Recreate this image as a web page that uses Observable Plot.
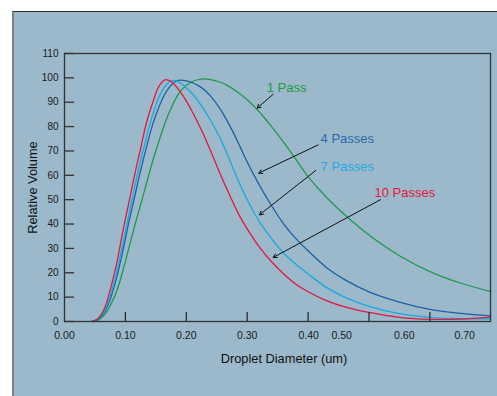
<!DOCTYPE html>
<html>
<head>
<meta charset="utf-8">
<script src="https://cdn.jsdelivr.net/npm/d3@7"></script>
<script src="https://cdn.jsdelivr.net/npm/@observablehq/plot@0.6"></script>
<style>
  html, body { margin: 0; padding: 0; background: #ffffff; }
  #panel {
    position: absolute; left: 12px; top: 11px;
    width: 483px; height: 384px;
    background: #9bb9ca;
    border-left: 2px solid #7a7f82;
    border-top: 1px solid #2a2a2a;
    overflow: hidden;
  }
</style>
</head>
<body>
<div id="panel"></div>
<script>
// Shared droplet-diameter grid (um)
const diameter = [0.045, 0.055, 0.065, 0.075, 0.085, 0.095, 0.105, 0.115, 0.125, 0.135,
  0.145, 0.155, 0.165, 0.175, 0.185, 0.195, 0.21, 0.225, 0.24, 0.255, 0.27, 0.285,
  0.30, 0.32, 0.34, 0.36, 0.38, 0.40, 0.43, 0.46, 0.50, 0.55, 0.60, 0.65, 0.70];

// Relative volume per series
const pass1 = [0, 0.6, 2.5, 6.5, 12, 20, 29.5, 39, 48, 57,
  66, 74, 81.5, 87.5, 92.5, 95.8, 98.5, 99.5, 99.3, 98.3, 96.5, 94,
  91, 86, 80, 73.5, 66.5, 59.5, 51, 43.8, 35.5, 27, 20.5, 15.8, 12.3];
const pass4 = [0, 0.8, 3.5, 9, 17.5, 28, 40, 51, 62, 72,
  81, 88, 93.5, 97, 98.9, 99, 98, 96, 92.5, 87.5, 81, 73.5,
  65.5, 56, 47.5, 40, 34, 29, 22.2, 17.2, 12.2, 8, 5, 3.3, 2.3];
const pass7 = [0, 1, 4, 10.5, 19.5, 31, 43, 55, 66, 76,
  85, 92, 96.5, 98.8, 98.7, 97, 93.5, 88.5, 82.5, 75.5, 67, 58,
  50, 41, 34, 28, 23.5, 19.5, 14, 10, 6.2, 3.2, 1.7, 1.2, 1.1];
const pass10 = [0, 1.2, 5, 13, 23, 36, 48, 60, 71, 82,
  90, 96.5, 99.2, 98.5, 96, 92.5, 86, 78.5, 70, 61, 52.5, 44.5,
  38, 30.5, 24.5, 19.5, 15.3, 12.2, 8.6, 6, 3.7, 1.7, 0.9, 1.0, 1.8];

const seriesNames = ["1 Pass", "4 Passes", "7 Passes", "10 Passes"];
const seriesValues = [pass1, pass4, pass7, pass10];
const lineColors = ["#1e9a4c", "#1b60a6", "#19a8e0", "#e2183c"];
const labelColors = ["#1e9a4c", "#2a6aaa", "#26aae2", "#e2183c"];

// Annotation label anchors and arrows (data units)
const labelX = [0.332, 0.4205, 0.4205, 0.509];
const labelY = [96.1, 75.1, 63.6, 52.9];
const arrowX1 = [0.3427, 0.4166, 0.4126, 0.5189];
const arrowY1 = [93.3, 72.5, 62.0, 50.0];
const arrowX2 = [0.3164, 0.3191, 0.3202, 0.3427];
const arrowY2 = [87.6, 60.9, 43.8, 26.3];

// Axis ticks and labels
const yTicks = [0, 10, 20, 30, 40, 50, 60, 70, 80, 90, 100, 110];
const xTickMarks = [0.1, 0.2, 0.3, 0.4, 0.5, 0.6];
const xTickLabels = ["0.00", "0.10", "0.20", "0.30", "0.40", "0.50", "0.60", "0.70"];
const xTickLabelAt = [0, 0.1, 0.2, 0.3, 0.401, 0.455, 0.558, 0.657];

const rows = [];
seriesNames.forEach((name, i) => {
  diameter.forEach((d, j) => rows.push({series: name, x: d, y: seriesValues[i][j]}));
});
const labels = seriesNames.map((name, i) => ({name, x: labelX[i], y: labelY[i], color: labelColors[i]}));
const arrows = seriesNames.map((name, i) => ({x1: arrowX1[i], y1: arrowY1[i], x2: arrowX2[i], y2: arrowY2[i]}));
const xlab = xTickLabels.map((t, i) => ({t, x: xTickLabelAt[i]}));

const font = "'Liberation Sans', Arial, Helvetica, sans-serif";
const blank = () => "";

const chart = Plot.plot({
  width: 483,
  height: 384,
  marginLeft: 50,
  marginRight: 7,
  marginTop: 41,
  marginBottom: 75,
  style: {background: "transparent", fontFamily: font, color: "#1a1a1a"},
  x: {domain: [0, 0.6995], axis: null},
  y: {domain: [0, 110], axis: null},
  color: {domain: seriesNames, range: lineColors},
  marks: [
    Plot.line(rows, {x: "x", y: "y", z: "series", stroke: "series", strokeWidth: 1.3, curve: "catmull-rom"}),
    Plot.axisY({ticks: yTicks, tickSize: -10, tickFormat: blank, label: null, stroke: "#333", strokeWidth: 1.3}),
    Plot.axisY({ticks: yTicks, tickSize: 0, tickPadding: 6, tickFormat: d => String(d), fontSize: 10, label: null, fill: "#1a1a1a"}),
    Plot.axisX({ticks: xTickMarks, tickSize: -9, tickFormat: blank, stroke: "#222", strokeWidth: 1.2, label: null}),
    Plot.text(xlab, {x: "x", y: 0, text: "t", dy: 14, fontSize: 10.5, fill: "#1a1a1a"}),
    Plot.frame({stroke: "#333", strokeWidth: 1.3}),
    Plot.text(["Droplet Diameter (um)"], {frameAnchor: "bottom", textAnchor: "middle", lineAnchor: "middle", dx: 6.5, dy: 37, fontSize: 12.8, fill: "#111"}),
    Plot.text(["Relative Volume"], {frameAnchor: "left", textAnchor: "middle", lineAnchor: "middle", dx: -32, rotate: -90, fontSize: 12.8, fill: "#111"}),
    Plot.arrow(arrows, {x1: "x1", y1: "y1", x2: "x2", y2: "y2", stroke: "#111", strokeWidth: 1, headLength: 6, bend: false}),
    Plot.text(labels, {x: "x", y: "y", text: "name", fill: "color", textAnchor: "start", fontSize: 13})
  ]
});
document.getElementById("panel").appendChild(chart);
</script>
</body>
</html>
